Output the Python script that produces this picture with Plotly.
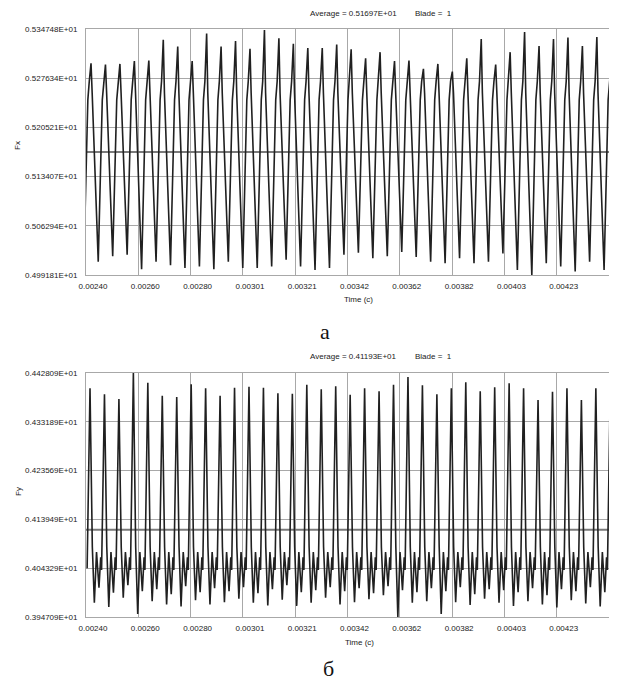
import plotly.graph_objects as go

# ---------------- data ----------------
x_tick_vals = [0.0024, 0.0026033, 0.0028066, 0.0030099, 0.0032132, 0.0034165,
               0.0036198, 0.0038231, 0.0040264, 0.0042297, 0.004433]
x_tick_text = ["0.00240", "0.00260", "0.00280", "0.00301", "0.00321", "0.00342",
               "0.00362", "0.00382", "0.00403", "0.00423", "0.00443"]

fx_tick_vals = [4.99181, 5.06294, 5.13407, 5.20521, 5.27634, 5.34748]
fx_tick_text = ["0.499181E+01", "0.506294E+01", "0.513407E+01", "0.520521E+01",
                "0.527634E+01", "0.534748E+01"]
fy_tick_vals = [3.94709, 4.04329, 4.13949, 4.23569, 4.33189, 4.42809]
fy_tick_text = ["0.394709E+01", "0.404329E+01", "0.413949E+01", "0.423569E+01",
                "0.433189E+01", "0.442809E+01"]

fx_average = 5.1697
fy_average = 4.1193

period = 5.618e-5            # blade passing period (s)
fx_first_peak_t = 0.0024195
fy_first_peak_t = 0.0024156

# Fx : per-cycle peak and trough values
fx_peaks = [5.298, 5.296, 5.297, 5.301, 5.302, 5.332, 5.322, 5.301, 5.341, 5.322,
            5.330, 5.319, 5.346, 5.334, 5.326, 5.320, 5.320, 5.325, 5.318, 5.305,
            5.314, 5.301, 5.302, 5.290, 5.297, 5.286, 5.305, 5.333, 5.296, 5.314,
            5.343, 5.323, 5.333, 5.335, 5.323, 5.336, 5.300]
fx_troughs = [5.011, 5.019, 5.021, 5.000, 5.011, 5.006, 5.002, 5.004, 5.000, 5.011,
              5.002, 5.002, 5.004, 5.014, 5.004, 4.999, 5.002, 5.021, 5.024, 5.016,
              5.019, 5.025, 5.018, 5.011, 5.009, 5.016, 5.009, 5.011, 5.023, 4.999,
              4.992, 5.009, 5.004, 4.997, 5.011, 4.999, 5.005]
fx_start = 5.005
fx_shoulder = 5.272
fx_rise = 5.245
fx_fall = 5.255

# Fy : per-cycle peak and the two minima of the low part
fy_peaks = [4.398, 4.386, 4.377, 4.428, 4.409, 4.383, 4.381, 4.406, 4.398, 4.383,
            4.399, 4.401, 4.399, 4.388, 4.387, 4.405, 4.396, 4.402, 4.385, 4.398,
            4.392, 4.405, 4.420, 4.404, 4.386, 4.398, 4.410, 4.392, 4.400, 4.408,
            4.398, 4.375, 4.391, 4.398, 4.375, 4.398, 4.402]
fy_min1 = [3.975, 3.967, 3.985, 3.953, 3.978, 3.972, 3.968, 3.980, 3.972, 3.976,
           3.983, 3.975, 3.970, 3.981, 3.969, 3.975, 3.985, 3.972, 3.976, 3.982,
           3.990, 3.947, 3.975, 3.978, 3.953, 3.976, 3.971, 3.983, 3.975, 3.969,
           3.978, 3.972, 3.966, 3.980, 3.974, 3.968, 3.975]
fy_min2 = [4.005, 3.995, 4.010, 3.998, 4.002, 3.992, 4.008, 3.996, 4.004, 3.998,
           4.006, 3.994, 4.002, 4.010, 3.996, 4.000, 4.006, 3.998, 4.004, 3.994,
           4.008, 4.000, 3.996, 4.004, 3.998, 4.006, 3.992, 4.002, 4.000, 3.996,
           4.004, 3.990, 4.002, 3.998, 4.006, 3.996, 4.000]
fy_start = 4.043
fy_high = 4.075
fy_mid = 4.065

# ---------------- build the sampled signals ----------------
fx_t, fx_v = [fx_first_peak_t - 0.5 * period], [fx_start]
for k, (pk, tr) in enumerate(zip(fx_peaks, fx_troughs)):
    tp = fx_first_peak_t + k * period
    fx_t += [tp - 0.22 * period, tp - 0.12 * period, tp, tp + 0.08 * period, tp + 0.5 * period]
    fx_v += [fx_rise, fx_shoulder, pk, fx_fall, tr]

fy_t, fy_v = [fy_first_peak_t - 0.2 * period], [fy_start]
for k, (pk, m1, m2) in enumerate(zip(fy_peaks, fy_min1, fy_min2)):
    tp = fy_first_peak_t + k * period
    fy_t += [tp, tp + 0.16 * period, tp + 0.3 * period, tp + 0.45 * period,
             tp + 0.62 * period, tp + 0.74 * period, tp + 0.8 * period]
    fy_v += [pk, 4.085, m1, fy_high, m2, fy_mid, 4.04]

x_range = [x_tick_vals[0], x_tick_vals[-1]]

fig = go.Figure()
line_style = dict(color="#202020", width=1.6)
avg_style = dict(color="#7a7a7a", width=2)

fig.add_trace(go.Scatter(x=x_range, y=[fx_average, fx_average], mode="lines",
                         line=avg_style, xaxis="x", yaxis="y", hoverinfo="skip"))
fig.add_trace(go.Scatter(x=fx_t, y=fx_v, mode="lines", line=line_style,
                         xaxis="x", yaxis="y"))
fig.add_trace(go.Scatter(x=x_range, y=[fy_average, fy_average], mode="lines",
                         line=avg_style, xaxis="x2", yaxis="y2", hoverinfo="skip"))
fig.add_trace(go.Scatter(x=fy_t, y=fy_v, mode="lines", line=line_style,
                         xaxis="x2", yaxis="y2"))

# the page body has an 8px margin, so the figure is drawn 8px in from the corner
OFF = 8
W, H = 617 - OFF, 682 - OFF

def px_x(p):
    return (p - OFF) / W

def px_y(p):
    return 1 - (p - OFF) / H

font_tick = dict(family="Liberation Sans, Arial", size=8, color="#222")

def xaxis(domain_anchor):
    return dict(range=x_range, tickvals=x_tick_vals, ticktext=x_tick_text,
                showgrid=True, gridcolor="#a8a8a8", gridwidth=1,
                showline=True, linecolor="#a8a8a8", linewidth=1, mirror=True,
                zeroline=False, ticks="", tickfont=font_tick, ticklabelshift=7,
                ticklabelstandoff=3, automargin=False,
                domain=[px_x(86), px_x(609)], anchor=domain_anchor)

def yaxis(domain, vals, text, anchor):
    return dict(range=[vals[0], vals[-1]], tickvals=vals, ticktext=text,
                showgrid=True, gridcolor="#a8a8a8", gridwidth=1,
                showline=True, linecolor="#a8a8a8", linewidth=1, mirror=True,
                zeroline=False, ticks="", tickfont=font_tick, ticklabelstandoff=6,
                automargin=False, domain=domain, anchor=anchor)

fig.update_layout(
    width=W, height=H, margin=dict(l=0, r=0, t=0, b=0),
    paper_bgcolor="white", plot_bgcolor="white", showlegend=False,
    xaxis=xaxis("y"),
    yaxis=yaxis([px_y(275), px_y(29)], fx_tick_vals, fx_tick_text, "x"),
    xaxis2=xaxis("y2"),
    yaxis2=yaxis([px_y(617), px_y(373)], fy_tick_vals, fy_tick_text, "x2"),
)

small = dict(family="Liberation Sans, Arial", size=8, color="#222")
serif = dict(family="Liberation Serif, Times New Roman", size=22, color="#111")

def ann(text, x, y, font, angle=0):
    fig.add_annotation(text=text, x=px_x(x), y=px_y(y), xref="paper", yref="paper",
                       showarrow=False, font=font, textangle=angle,
                       xanchor="center", yanchor="middle")

ann("Average = 0.51697E+01", 353, 14, small)
ann("Blade =  1", 433, 14, small)
ann("Time (c)", 358, 299, small)
ann("Fx", 18, 146, small, -90)
ann("а", 325, 331, serif)
ann("Average = 0.41193E+01", 353, 357, small)
ann("Blade =  1", 433, 357, small)
ann("Time (c)", 359, 642, small)
ann("Fy", 18, 492, small, -90)
ann("б", 328, 668, serif)

fig.write_html("out.html")
